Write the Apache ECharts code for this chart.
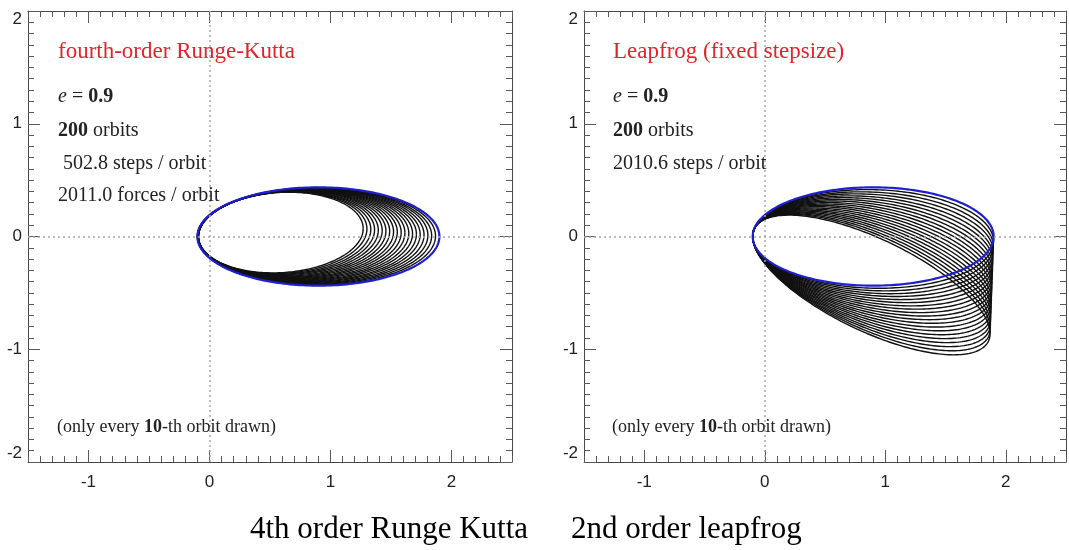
<!DOCTYPE html>
<html>
<head>
<meta charset="utf-8">
<script src="https://cdn.jsdelivr.net/npm/echarts@6/dist/echarts.min.js"></script>
<style>
  html, body { margin: 0; padding: 0; background: #ffffff; }
  #chart { width: 1069px; height: 550px; }
</style>
</head>
<body>
<div id="chart"></div>
<script>
// Axis ranges and tick labels shared by both panels
const xRange = [-1.5, 2.5];
const yRange = [-2, 2];
const xMajorTicks = [-1, 0, 1, 2];

// Kepler orbit, e = 0.9. Index 0 is the starting orbit, then every 10th orbit.
// Each orbit: periapsis x, apoapsis x, semi-minor axis, vertical drift of the apoapsis end.

// fourth-order Runge-Kutta: the orbit slowly shrinks
const rkPeri = [-0.100, -0.100, -0.099, -0.099, -0.098, -0.098, -0.097, -0.097, -0.096, -0.096, -0.095,
                -0.095, -0.094, -0.094, -0.093, -0.093, -0.092, -0.092, -0.091, -0.091, -0.090];
const rkApo = [1.900, 1.868, 1.836, 1.805, 1.773, 1.741, 1.710, 1.678, 1.647, 1.615, 1.584,
               1.552, 1.521, 1.489, 1.458, 1.427, 1.395, 1.364, 1.333, 1.301, 1.270];
const rkSemiMinor = [0.436, 0.432, 0.428, 0.425, 0.421, 0.417, 0.414, 0.410, 0.406, 0.402, 0.398,
                     0.394, 0.390, 0.386, 0.382, 0.378, 0.373, 0.369, 0.365, 0.361, 0.356];
const rkTilt = [0.000, 0.004, 0.007, 0.011, 0.014, 0.018, 0.021, 0.025, 0.028, 0.032, 0.035,
                0.039, 0.042, 0.046, 0.049, 0.053, 0.056, 0.060, 0.063, 0.067, 0.070];

// leapfrog with fixed stepsize: size is kept, the orbit drifts downward
const lfPeri = [-0.100, -0.100, -0.100, -0.100, -0.100, -0.100, -0.100, -0.100, -0.100, -0.100, -0.100,
                -0.100, -0.100, -0.100, -0.100, -0.100, -0.100, -0.100, -0.100, -0.100, -0.100];
const lfApo = [1.900, 1.899, 1.897, 1.896, 1.894, 1.893, 1.891, 1.890, 1.888, 1.887, 1.885,
               1.884, 1.882, 1.881, 1.879, 1.878, 1.876, 1.875, 1.873, 1.872, 1.870];
const lfSemiMinor = [0.436, 0.437, 0.437, 0.438, 0.438, 0.439, 0.439, 0.440, 0.440, 0.441, 0.441,
                     0.442, 0.442, 0.443, 0.443, 0.444, 0.444, 0.445, 0.445, 0.446, 0.446];
const lfTilt = [0.000, -0.043, -0.086, -0.129, -0.172, -0.215, -0.258, -0.301, -0.344, -0.387, -0.430,
                -0.473, -0.516, -0.559, -0.602, -0.645, -0.688, -0.731, -0.774, -0.817, -0.860];

// Panel texts
const rkTitle = 'fourth-order Runge-Kutta';
const lfTitle = 'Leapfrog (fixed stepsize)';
const rkInfo = ['{i|e} = {b|0.9}', '{b|200} orbits', ' 502.8 steps / orbit', '2011.0 forces / orbit'];
const lfInfo = ['{i|e} = {b|0.9}', '{b|200} orbits', '2010.6 steps / orbit'];
const footNote = '(only every {b|10}-th orbit drawn)';
const captions = ['4th order Runge Kutta', '2nd order leapfrog'];

const FRAME = '#4a4a4a';
const TICK = '#5a5a5a';
const SERIF = '"Liberation Serif", "DejaVu Serif", serif';
const SANS = '"Liberation Sans", Arial, sans-serif';

function orbitRows(peri, apo, semi, tilt) {
  return peri.map((p, i) => [p, apo[i], semi[i], tilt[i]]);
}

// Draws one orbit as a closed curve through the cartesian axes
function renderOrbit(color, width) {
  return function (params, api) {
    const peri = api.value(0), apo = api.value(1), b = api.value(2), tilt = api.value(3);
    const cx = (peri + apo) / 2, rx = (apo - peri) / 2;
    const pts = [];
    const n = 240;
    for (let k = 0; k <= n; k++) {
      const t = 2 * Math.PI * k / n;
      const x = cx + rx * Math.cos(t);
      const y = b * Math.sin(t) + tilt * (x - peri) / (apo - peri);
      pts.push(api.coord([x, y]));
    }
    return {
      type: 'polyline',
      shape: { points: pts },
      style: { stroke: color, lineWidth: width, fill: null }
    };
  };
}

const grids = [];
const xAxes = [];
const yAxes = [];
const series = [];
const graphics = [];

function addPanel(left, width, peri, apo, semi, tilt) {
  const gA = grids.length;
  grids.push({ left: left, top: 11, width: width, height: 451, containLabel: false });
  grids.push({ left: left, top: 11, width: width, height: 451, containLabel: false });
  const gB = gA + 1;

  const xMain = xAxes.length;
  const major = (pos, labels) => ({
    type: 'value', gridIndex: gA, position: pos, min: xRange[0], max: xRange[1],
    axisLine: { show: true, onZero: false, lineStyle: { color: FRAME, width: 1 } },
    axisTick: { show: true, inside: true, length: 12, customValues: xMajorTicks, lineStyle: { color: TICK } },
    axisLabel: { show: labels, customValues: xMajorTicks, margin: 12, color: '#222', fontSize: 17, fontFamily: SANS },
    splitLine: { show: false }
  });
  const minor = (pos) => ({
    type: 'value', gridIndex: gB, position: pos, min: xRange[0], max: xRange[1], interval: 0.1,
    axisLine: { show: false, onZero: false },
    axisTick: { show: true, inside: true, length: 6, lineStyle: { color: TICK } },
    axisLabel: { show: false },
    splitLine: { show: false }
  });
  xAxes.push(major('bottom', true), major('top', false), minor('bottom'), minor('top'));

  const yMain = yAxes.length;
  const yAxis = (pos, labels) => ({
    type: 'value', gridIndex: gA, position: pos, min: yRange[0], max: yRange[1], interval: 1,
    axisLine: { show: true, onZero: false, lineStyle: { color: FRAME, width: 1 } },
    axisTick: { show: true, inside: true, length: 12, lineStyle: { color: TICK } },
    minorTick: { show: true, splitNumber: 10, length: 6, lineStyle: { color: TICK } },
    axisLabel: {
      show: labels, margin: 6, color: '#222', fontSize: 17, fontFamily: SANS,
      verticalAlignMaxLabel: 'top', verticalAlignMinLabel: 'bottom'
    },
    splitLine: { show: false }
  });
  yAxes.push(yAxis('left', true), yAxis('right', false));
  yAxes.push({ type: 'value', gridIndex: gB, min: yRange[0], max: yRange[1], show: false,
               axisLine: { onZero: false } });

  // dotted zero lines
  series.push({
    type: 'line', xAxisIndex: xMain, yAxisIndex: yMain, data: [[0, 0]], showSymbol: false,
    lineStyle: { opacity: 0 }, silent: true, z: 1,
    markLine: {
      silent: true, symbol: 'none', animation: false, label: { show: false },
      lineStyle: { type: [2, 3], color: '#a8a8a8', width: 1.5 },
      emphasis: { disabled: true },
      data: [{ xAxis: 0 }, { yAxis: 0 }]
    }
  });

  const rows = orbitRows(peri, apo, semi, tilt);
  series.push({
    type: 'custom', xAxisIndex: xMain, yAxisIndex: yMain, z: 3, silent: true,
    renderItem: renderOrbit('#111111', 1.4),
    data: rows.slice(1)
  });
  series.push({
    type: 'custom', xAxisIndex: xMain, yAxisIndex: yMain, z: 4, silent: true,
    renderItem: renderOrbit('#1f1fd0', 2.2),
    data: rows.slice(0, 1)
  });
}

addPanel(28, 484, rkPeri, rkApo, rkSemiMinor, rkTilt);
addPanel(584, 482, lfPeri, lfApo, lfSemiMinor, lfTilt);

const rich = {
  i: { fontStyle: 'italic', fontFamily: SERIF, fontSize: 20, fill: '#222' },
  b: { fontWeight: 'bold', fontFamily: SERIF, fontSize: 20, fill: '#222' }
};

function addTexts(x, title, info) {
  graphics.push({
    type: 'text', x: x, y: 52, z: 10,
    style: { text: title, fill: '#e2242a', font: '23px ' + SERIF, verticalAlign: 'middle' }
  });
  const rows = [97, 131, 164, 196];
  info.forEach((t, i) => {
    graphics.push({
      type: 'text', x: x, y: rows[i], z: 10,
      style: { text: t, fill: '#222', font: '20px ' + SERIF, verticalAlign: 'middle', rich: rich }
    });
  });
  graphics.push({
    type: 'text', x: x - 1, y: 427, z: 10,
    style: { text: footNote, fill: '#222', font: '18px ' + SERIF, verticalAlign: 'middle',
             rich: { b: { fontWeight: 'bold', fontFamily: SERIF, fontSize: 18, fill: '#222' } } }
  });
}
addTexts(58, rkTitle, rkInfo);
addTexts(613, lfTitle, lfInfo);

graphics.push({
  type: 'text', x: 250, y: 530,
  style: { text: captions[0], fill: '#000', font: '31px ' + SERIF, verticalAlign: 'middle' }
});
graphics.push({
  type: 'text', x: 571, y: 530,
  style: { text: captions[1], fill: '#000', font: '31px ' + SERIF, verticalAlign: 'middle' }
});

const chart = echarts.init(document.getElementById('chart'), null, { renderer: 'canvas' });
chart.setOption({
  animation: false,
  backgroundColor: '#ffffff',
  grid: grids,
  xAxis: xAxes,
  yAxis: yAxes,
  series: series,
  graphic: { elements: graphics }
});
</script>
</body>
</html>
